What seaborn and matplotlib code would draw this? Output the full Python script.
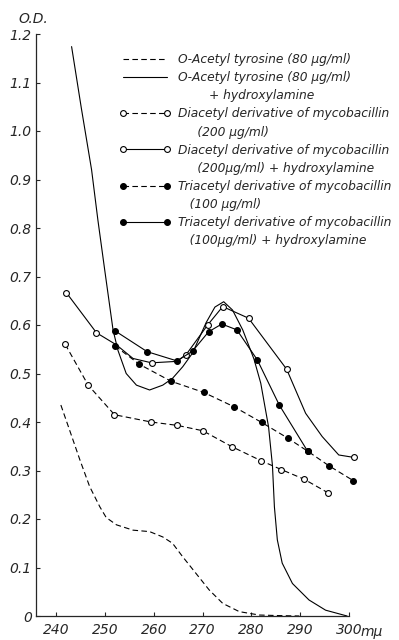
import matplotlib
matplotlib.use("Agg")
import matplotlib.pyplot as plt
from matplotlib.lines import Line2D
import seaborn as sns

# wavelength (m-mu) and optical density
tyr_x = [240.9, 242.7, 244.8, 246.8, 248.9, 250.2, 252.3, 255.7, 259.1, 261.8,
         263.8, 265.9, 268.6, 271.3, 274.1, 277.5, 281.6, 285.0, 289.8]
tyr_y = [0.435, 0.383, 0.322, 0.267, 0.225, 0.203, 0.188, 0.177, 0.174, 0.163,
         0.150, 0.122, 0.088, 0.054, 0.026, 0.009, 0.002, 0.001, 0.0]

tyrh_x = [243.1, 245.1, 247.2, 248.5, 249.9, 251.6, 252.6, 254.3, 256.4, 259.1,
          261.8, 263.8, 265.9, 267.9, 270.7, 272.5, 274.3, 276.1, 278.2, 280.5,
          281.9, 283.5, 284.3, 284.7, 285.3, 286.3, 288.4, 291.8, 295.2, 299.6]
tyrh_y = [1.174, 1.047, 0.920, 0.816, 0.713, 0.590, 0.548, 0.500, 0.476, 0.466,
          0.476, 0.490, 0.514, 0.542, 0.605, 0.637, 0.648, 0.631, 0.590, 0.530,
          0.480, 0.390, 0.310, 0.225, 0.157, 0.109, 0.067, 0.033, 0.012, 0.0]

di_x = [241.8, 246.5, 251.9, 259.4, 264.8, 270.0, 276.0, 282.0, 286.1, 290.8, 295.7]
di_y = [0.560, 0.476, 0.415, 0.400, 0.393, 0.382, 0.349, 0.320, 0.302, 0.282, 0.254]

# curve of diacetyl + hydroxylamine; measured points flagged in dih_pts
dih_x = [242.0, 248.2, 252.3, 255.7, 259.5, 264.7, 266.6, 271.0, 274.1, 279.4,
         287.2, 291.1, 294.5, 297.9, 301.0]
dih_y = [0.667, 0.584, 0.559, 0.531, 0.522, 0.525, 0.539, 0.600, 0.638, 0.614,
         0.509, 0.418, 0.370, 0.332, 0.327]
dih_pts = [0, 1, 4, 6, 7, 8, 9, 10, 14]

tri_x = [252.0, 257.0, 263.5, 270.2, 276.5, 282.1, 287.4, 291.5, 296.0, 300.9]
tri_y = [0.557, 0.519, 0.484, 0.461, 0.431, 0.399, 0.367, 0.340, 0.309, 0.279]

trih_x = [252.0, 258.6, 264.7, 267.9, 271.2, 273.9, 277.0, 281.2, 285.7, 291.5]
trih_y = [0.588, 0.545, 0.526, 0.546, 0.586, 0.602, 0.590, 0.528, 0.435, 0.340]

x_ticks = [240, 250, 260, 270, 280, 290, 300]
y_ticks = [0, 0.1, 0.2, 0.3, 0.4, 0.5, 0.6, 0.7, 0.8, 0.9, 1.0, 1.1, 1.2]
y_labels = ["0", "0.1", "0.2", "0.3", "0.4", "0.5", "0.6", "0.7", "0.8", "0.9",
            "1.0", "1.1", "1.2"]

sns.set_style("ticks")
plt.rcParams["font.family"] = ["DejaVu Sans"]
plt.rcParams["font.style"] = "italic"

fig = plt.figure(figsize=(3.99, 6.40), dpi=100)
ax = fig.add_axes([36 / 399, 24 / 640, 313 / 399, 582 / 640])

lw = 0.8
dash = (0, (5, 3))
common = dict(ax=ax, color="black", lw=lw, estimator=None, sort=False, clip_on=False)

sns.lineplot(x=tyr_x, y=tyr_y, linestyle=dash, **common)
sns.lineplot(x=tyrh_x, y=tyrh_y, linestyle="-", **common)
sns.lineplot(x=di_x, y=di_y, linestyle=dash, marker="o", ms=4.2,
             mfc="white", mec="black", mew=0.8, **common)
sns.lineplot(x=dih_x, y=dih_y, linestyle="-", marker="o", ms=4.2, markevery=dih_pts,
             mfc="white", mec="black", mew=0.8, **common)
sns.lineplot(x=tri_x, y=tri_y, linestyle=dash, marker="o", ms=4.2,
             mfc="black", mec="black", mew=0.8, **common)
sns.lineplot(x=trih_x, y=trih_y, linestyle="-", marker="o", ms=4.2,
             mfc="black", mec="black", mew=0.8, **common)

ax.set_xlim(235.8, 300)
ax.set_ylim(0, 1.2)
ax.set_xticks(x_ticks)
ax.set_yticks(y_ticks)
ax.set_yticklabels(y_labels)
ax.tick_params(direction="in", length=3, width=0.8, labelsize=10)
ax.tick_params(axis="x", pad=5)
ax.tick_params(axis="y", pad=3)
sns.despine(ax=ax)
for s in ["left", "bottom"]:
    ax.spines[s].set_linewidth(0.9)
ax.set_xlabel("")
ax.set_ylabel("")

fig.text(33 / 399, 1 - 19 / 640, "O.D.", ha="center", va="center", fontsize=10)
fig.text(361 / 399, 1 - 632 / 640, "mμ", ha="left", va="center", fontsize=10)

# legend, one row per text line
blank = Line2D([], [], color="none")
mk = dict(marker="o", ms=4.2, mew=0.8, mec="black", color="black", lw=lw)
handles = [
    Line2D([], [], color="black", lw=lw, linestyle=dash),
    Line2D([], [], color="black", lw=lw), blank,
    Line2D([], [], linestyle=dash, mfc="white", **mk), blank,
    Line2D([], [], linestyle="-", mfc="white", **mk), blank,
    Line2D([], [], linestyle=dash, mfc="black", **mk), blank,
    Line2D([], [], linestyle="-", mfc="black", **mk), blank,
]
labels = [
    "O-Acetyl tyrosine (80 μg/ml)",
    "O-Acetyl tyrosine (80 μg/ml)",
    "        + hydroxylamine",
    "Diacetyl derivative of mycobacillin",
    "     (200 μg/ml)",
    "Diacetyl derivative of mycobacillin",
    "     (200μg/ml) + hydroxylamine",
    "Triacetyl derivative of mycobacillin",
    "   (100 μg/ml)",
    "Triacetyl derivative of mycobacillin",
    "   (100μg/ml) + hydroxylamine",
]
fig.legend(handles, labels, loc="upper left", bbox_to_anchor=(119 / 399, 1 - 53 / 640),
           frameon=False, fontsize=8.8, handlelength=4.2, handletextpad=0.65,
           labelspacing=0.42, borderpad=0, borderaxespad=0, numpoints=2)

fig.savefig("out.png", dpi=100)
